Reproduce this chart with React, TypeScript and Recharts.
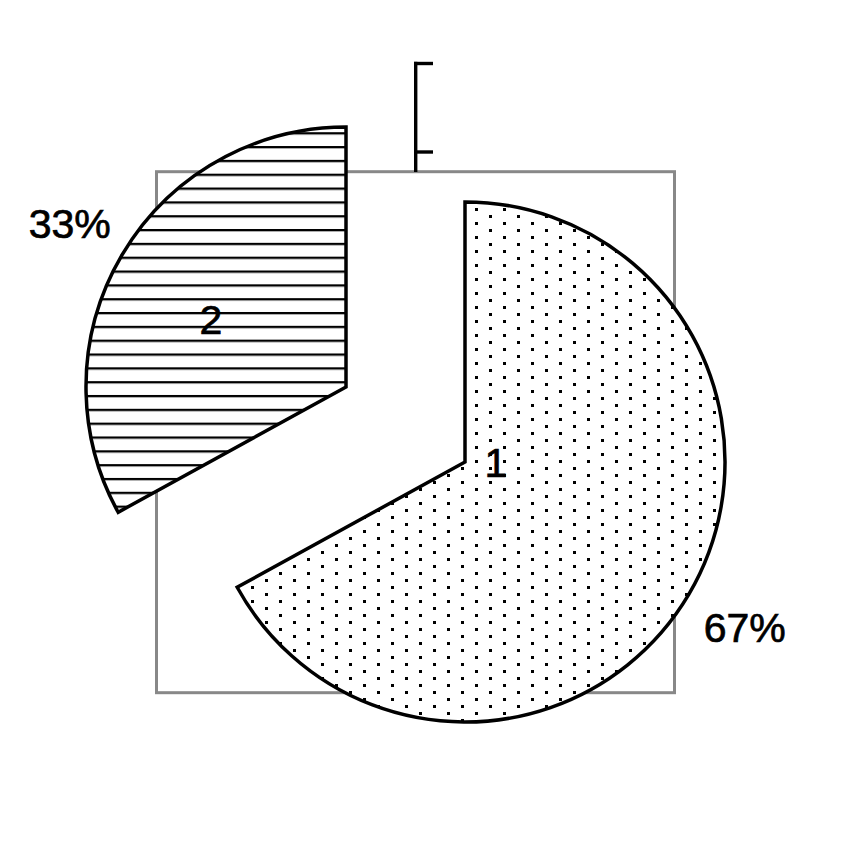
import { PieChart, Pie, Cell } from "recharts";

const categories = ["1", "2"];
const shares = [67, 33];

const data = categories.map((name, i) => ({ name, value: shares[i] }));

// fills per slice (patterns are defined in <defs> below)
const FILLS = ["url(#dotFill)", "url(#lineFill)"];

// each slice gets its own Pie so it can be pulled away from the centre
const SLICE_CENTERS = [
  { cx: 465, cy: 462 },
  { cx: 346, cy: 387 },
];
// where the category number sits, relative to the slice's own centre
const NAME_OFFSETS = [
  { dx: 31, dy: 0 },
  { dx: -135, dy: -68 },
];
// distance of the percent label past the rim
const LABEL_GAPS = [65, 61];
const RADIUS = 260;
const FONT = "'Liberation Sans', Arial, sans-serif";
const FONT_SIZE = 41;

function makeLabel(shown: number) {
  return (props: any) => {
    const { cx, cy, midAngle, outerRadius, percent, index, name } = props;
    if (index !== shown) return null;
    const rad = (-midAngle * Math.PI) / 180;
    const r = outerRadius + LABEL_GAPS[index];
    const px = cx + r * Math.cos(rad);
    const py = cy + r * Math.sin(rad);
    const off = NAME_OFFSETS[index];
    const shift = FONT_SIZE * 0.36;
    const textStyle = {
      textAnchor: "middle" as const,
      fontFamily: FONT,
      fontSize: FONT_SIZE,
      fill: "#000",
      stroke: "#000",
      strokeWidth: 0.7,
    };
    return (
      <g>
        <text x={px} y={py + shift} {...textStyle}>
          {`${Math.round(percent * 100)}%`}
        </text>
        <text x={cx + off.dx} y={cy + off.dy + shift} {...textStyle}>
          {name}
        </text>
      </g>
    );
  };
}

export default function App() {
  return (
    <div style={{ position: "absolute", top: 0, left: 0, background: "#fff" }}>
      <PieChart
        width={851}
        height={851}
        margin={{ top: 0, right: 0, bottom: 0, left: 0 }}
      >
        <defs>
          <pattern
            id="dotFill"
            patternUnits="userSpaceOnUse"
            x={475}
            y={222}
            width={28}
            height={14}
          >
            <rect width={28} height={14} fill="#fff" />
            <rect x={0} y={0} width={3} height={3} fill="#000" shapeRendering="crispEdges" />
            <rect x={14} y={7} width={3} height={3} fill="#000" shapeRendering="crispEdges" />
          </pattern>
          <pattern
            id="lineFill"
            patternUnits="userSpaceOnUse"
            x={0}
            y={132.2}
            width={10}
            height={13.83}
          >
            <rect width={10} height={13.83} fill="#fff" />
            <rect x={0} y={0} width={10} height={2.3} fill="#000" />
          </pattern>
        </defs>

        {/* plot frame */}
        <rect
          x={156.5}
          y={171.7}
          width={518}
          height={521}
          fill="none"
          stroke="#888"
          strokeWidth={3}
        />
        {/* bracket mark above the frame */}
        <g stroke="#000" strokeWidth={3.4} fill="none">
          <line x1={415.7} y1={61.8} x2={415.7} y2={172} />
          <line x1={414} y1={63.5} x2={433} y2={63.5} />
          <line x1={414} y1={152} x2={433} y2={152} />
        </g>

        {SLICE_CENTERS.map((c, shown) => (
          <Pie
            key={`pie-${shown}`}
            data={data}
            dataKey="value"
            nameKey="name"
            cx={c.cx}
            cy={c.cy}
            innerRadius={0}
            outerRadius={RADIUS}
            startAngle={90}
            endAngle={-270}
            labelLine={false}
            label={makeLabel(shown)}
            isAnimationActive={false}
          >
            {data.map((entry, i) => (
              <Cell
                key={`cell-${i}`}
                fill={i === shown ? FILLS[i] : "none"}
                stroke={i === shown ? "#000" : "none"}
                strokeWidth={3.5}
              />
            ))}
          </Pie>
        ))}
      </PieChart>
    </div>
  );
}
